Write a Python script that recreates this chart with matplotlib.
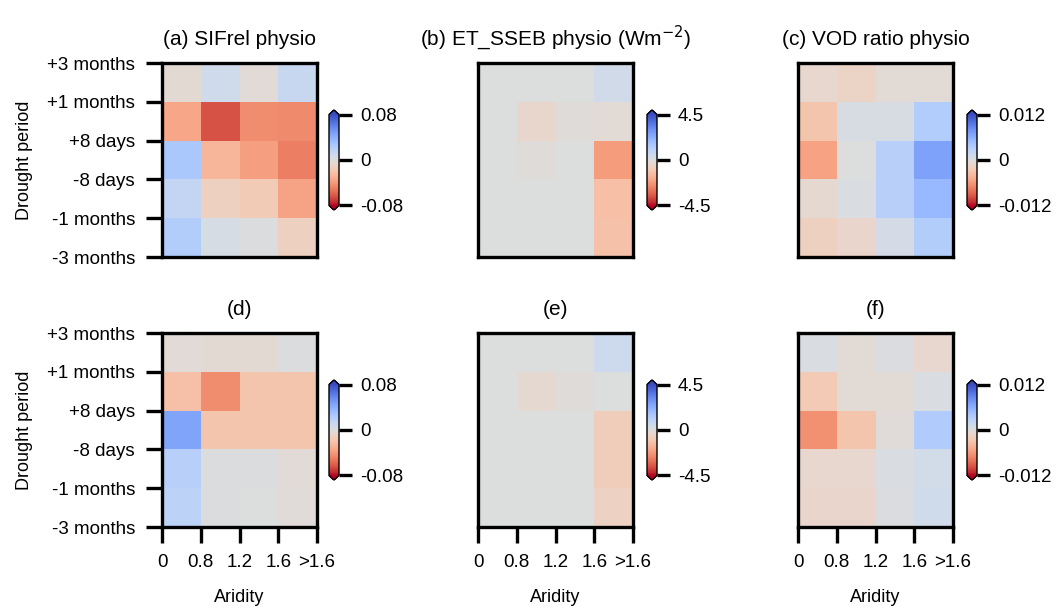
import numpy as np
import matplotlib
matplotlib.use("Agg")
import matplotlib.pyplot as plt

plt.rcParams['font.family'] = ['Liberation Sans', 'DejaVu Sans']

# rows from top (+3 months) to bottom (-3 months), columns = aridity classes
periodos = ['-3 months', '-1 months', '-8 days', '+8 days', '+1 months', '+3 months']
aridez = ['0', '0.8', '1.2', '1.6', '>1.6']

sif_a = [[-0.004, 0.008, -0.003, 0.012],
         [-0.035, -0.064, -0.045, -0.046],
         [0.026, -0.028, -0.038, -0.050],
         [0.014, -0.012, -0.016, -0.036],
         [0.022, 0.004, 0.001, -0.012]]
et_b = [[0.0, 0.0, 0.0, 0.4],
        [0.0, -0.4, -0.1, -0.2],
        [0.0, -0.1, 0.0, -2.2],
        [0.0, 0.0, 0.0, -1.3],
        [0.0, 0.0, 0.0, -1.2]]
vod_c = [[-0.001, -0.0015, -0.0005, -0.0005],
         [-0.003, 0.0005, 0.0005, 0.0034],
         [-0.0055, 0.0, 0.003, 0.007],
         [-0.0008, 0.0003, 0.003, 0.0052],
         [-0.0018, -0.0012, 0.0008, 0.0033]]
sif_d = [[-0.003, -0.004, -0.004, 0.001],
         [-0.022, -0.045, -0.020, -0.020],
         [0.045, -0.020, -0.020, -0.020],
         [0.020, 0.001, 0.001, -0.003],
         [0.018, 0.001, 0.0, -0.002]]
et_e = [[0.0, 0.0, 0.0, 0.5],
        [0.0, -0.3, -0.1, 0.0],
        [0.0, 0.0, 0.0, -0.8],
        [0.0, 0.0, 0.0, -0.8],
        [0.0, 0.0, 0.0, -0.6]]
vod_f = [[0.0003, -0.0005, 0.0002, -0.001],
         [-0.0025, -0.0005, -0.0005, 0.0003],
         [-0.0065, -0.003, -0.0003, 0.0035],
         [-0.001, -0.001, 0.0003, 0.001],
         [-0.0012, -0.0012, 0.0002, 0.0012]]

titulos = ['(a) SIFrel physio', '(b) ET_SSEB physio (Wm$^{-2}$)', '(c) VOD ratio physio',
           '(d)', '(e)', '(f)']
dados = [sif_a, et_b, vod_c, sif_d, et_e, vod_f]
limites = [0.08, 4.5, 0.012, 0.08, 4.5, 0.012]
rotulos_cb = [['-0.08', '0', '0.08'], ['-4.5', '0', '4.5'], ['-0.012', '0', '0.012']]

W, H = 1063, 614
fig = plt.figure(figsize=(W / 100, H / 100), dpi=100)

esq = [162, 478, 798]
topo = [63, 333]
larg, alt = 155, 194
cb_esq = [329, 647, 967]

for i in range(6):
    lin, col = i // 3, i % 3
    ax = fig.add_axes([esq[col] / W, 1 - (topo[lin] + alt) / H, larg / W, alt / H])
    vmax = limites[i]
    z = np.flipud(np.array(dados[i]))
    im = ax.pcolormesh(np.arange(5), np.arange(6), z, cmap='coolwarm_r',
                       vmin=-vmax, vmax=vmax)
    ax.set_xlim(0, 4)
    ax.set_ylim(0, 5)
    for s in ax.spines.values():
        s.set_linewidth(2.4)
    ax.tick_params(length=11.5, width=2.4, labelsize=13.5, pad=8)
    ax.set_title(titulos[i], fontsize=15, pad=13)
    if col == 0:
        ax.set_yticks(np.arange(6))
        ax.set_yticklabels(periodos)
        ax.set_ylabel('Drought period', fontsize=13, labelpad=10)
    else:
        ax.set_yticks([])
    if lin == 1:
        ax.set_xticks(np.arange(5))
        ax.set_xticklabels(aridez)
        ax.set_xlabel('Aridity', fontsize=13, labelpad=13)
    else:
        ax.set_xticks([])

    # colorbar
    cy = topo[lin] + alt / 2
    cax = fig.add_axes([cb_esq[col] / W, 1 - (cy + 50) / H, 10 / W, 100 / H])
    cb = fig.colorbar(im, cax=cax, extend='both', extendfrac=0.05)
    cb.set_ticks([-vmax, 0, vmax])
    cb.set_ticklabels(rotulos_cb[col])
    cb.outline.set_linewidth(1.0)
    cax.tick_params(length=9, width=2.4, labelsize=13.5, pad=6)

fig.savefig('out.png', dpi=100)
